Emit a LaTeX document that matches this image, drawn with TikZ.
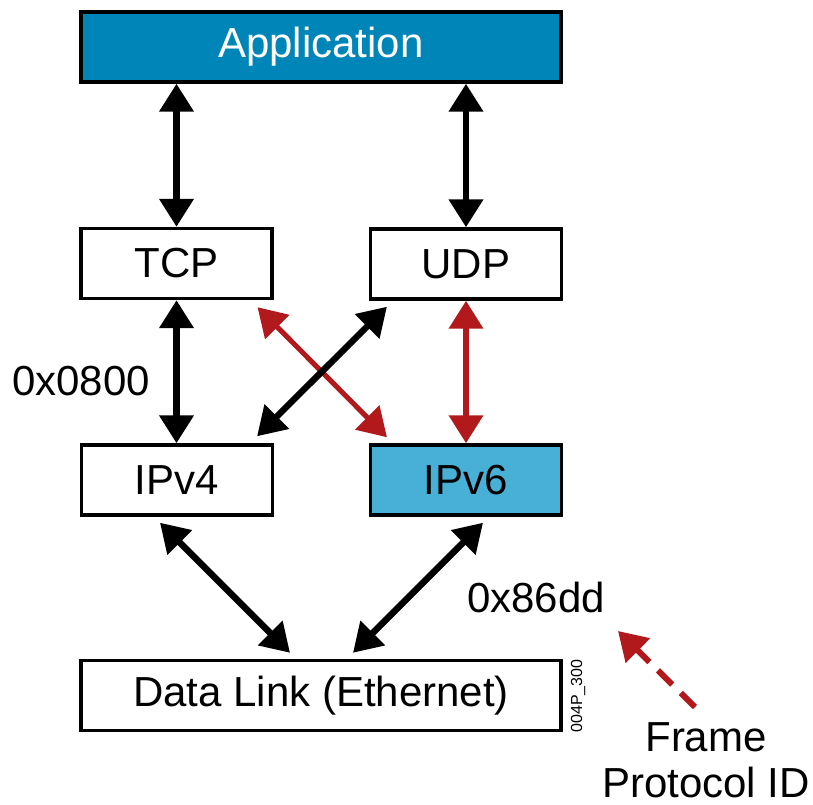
\documentclass[tikz,border=0pt]{standalone}
\usepackage{fontspec}
\setmainfont{Liberation Sans}
\usetikzlibrary{arrows.meta}
\definecolor{appblue}{RGB}{0,133,185}
\definecolor{v6blue}{RGB}{72,176,214}
\definecolor{linkred}{RGB}{178,25,28}
\tikzset{
  layer/.style={draw=black, line width=2.6pt, inner sep=0pt,
    minimum width=#1, minimum height=52.5pt,
    font=\fontsize{31.5}{36}\selectfont},
  layer/.default=143pt,
  label text/.style={inner sep=0pt, font=\fontsize{31.5}{34}\selectfont},
  biarrow/.style={line width=4.8pt, {Triangle[width=25pt,length=21pt]}-{Triangle[width=25pt,length=21pt]}},
  redarrow/.style={biarrow, draw=linkred, line width=#1},
  redarrow/.default=4.5pt
}
\begin{document}
\begin{tikzpicture}[x=0.75pt, y=-0.75pt]
  \useasboundingbox (0,0) rectangle (813,805);

  % protocol layers
  \node[layer=360pt, fill=appblue, text=white] (app) at (321,47) {Application};
  \node[layer] (tcp)  at (176.5,263.5) {TCP};
  \node[layer] (udp)  at (466,264)     {UDP};
  \node[layer] (ipv4) at (177,480)     {IPv4};
  \node[layer, fill=v6blue] (ipv6) at (466,480) {IPv6};
  \node[layer=360pt] (dl) at (321,695.5) {Data Link (Ethernet)};

  % transport to application
  \draw[biarrow] (tcp.north |- app.south) -- (tcp.north);
  \draw[biarrow] (udp.north |- app.south) -- (udp.north);

  % network to transport
  \draw[biarrow] (tcp.south) -- (tcp.south |- ipv4.north);
  \draw[redarrow] (udp.south) -- (udp.south |- ipv6.north);
  \draw[redarrow=3.8pt] ([shift={(-16,7)}]tcp.south east) -- ([shift={(18,-6)}]ipv6.north west);
  \draw[biarrow] ([shift={(18,6)}]udp.south west) -- ([shift={(-17,-7)}]ipv4.north east);

  % link to network
  \draw[biarrow] ([shift={(-17,6)}]ipv4.south) -- ([shift={(-31,-6)}]dl.north);
  \draw[biarrow] ([shift={(17,6)}]ipv6.south) -- ([shift={(32,-6)}]dl.north);

  % EtherType labels
  \node[label text, anchor=base west] (v4type) at (12,395) {0x0800};
  \node[label text, anchor=base west] (v6type) at (467,612) {0x86dd};

  % figure code
  \node[inner sep=0pt, rotate=90, font=\fontsize{12}{14}\selectfont] (figid) at (578,696) {004P\_300};

  % frame protocol ID callout
  \node[label text, align=center, anchor=north] (fpid) at (706,722.5) {Frame\\Protocol ID};
  \coordinate (calloutTail) at (695,707);
  \coordinate (calloutTip) at (618,631);
  \draw[draw=linkred, line width=4.5pt, dash pattern=on 15pt off 9pt, -{Triangle[width=25pt,length=21pt]}, color=linkred]
    (calloutTail) -- (calloutTip);
\end{tikzpicture}
\end{document}
